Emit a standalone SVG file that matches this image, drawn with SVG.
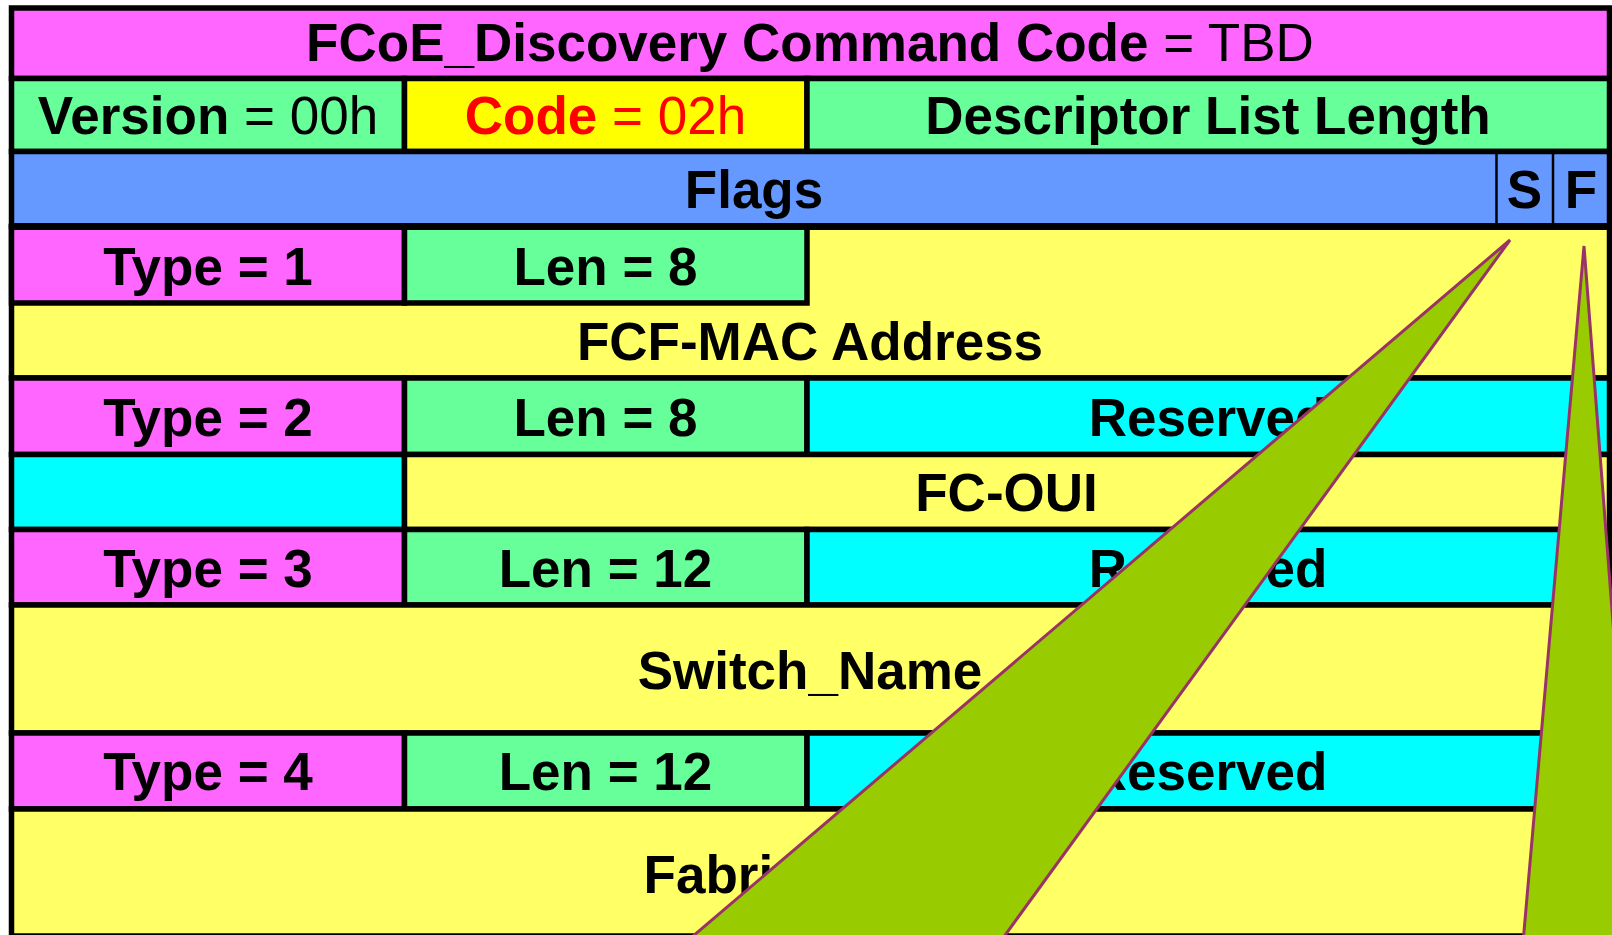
<svg xmlns="http://www.w3.org/2000/svg" width="1612" height="935" viewBox="0 0 1612 935">
  <style>
    .cell { stroke: #000; stroke-width: 5.5; }
    .pink { fill: #FF66FF; }
    .green { fill: #66FF99; }
    .yel { fill: #FFFF66; }
    .code { fill: #FFFF00; }
    .blue { fill: #6699FF; }
    .cyan { fill: #00FFFF; }
    .thin { stroke: #000; stroke-width: 2.5; }
    text { font-family: "Liberation Sans", Arial, Helvetica, sans-serif; font-size: 53px; font-weight: bold; fill: #000; text-anchor: middle; }
    .reg { font-weight: normal; }
    .red { fill: #FF0000; }
    .callout { fill: #99CC00; stroke: #993366; stroke-width: 3; }
  </style>
  <rect width="1612" height="935" fill="#FFFFFF"/>

  <!-- header word 0 -->
  <g id="title">
    <rect class="cell pink" x="11.5" y="8" width="1598" height="70.5"/>
    <text x="810" y="61">FCoE_Discovery Command Code<tspan class="reg"> = TBD</tspan></text>
  </g>

  <!-- header word 1 -->
  <g id="version">
    <rect class="cell green" x="11.5" y="78.5" width="393" height="73"/>
    <text x="208" y="134">Version<tspan class="reg"> = 00h</tspan></text>
  </g>
  <g id="code">
    <rect class="cell code" x="404.5" y="78.5" width="402.5" height="73"/>
    <text class="red" x="605.5" y="134">Code<tspan class="reg red"> = 02h</tspan></text>
  </g>
  <g id="desc-len">
    <rect class="cell green" x="807" y="78.5" width="802.5" height="73"/>
    <text x="1208" y="134">Descriptor List Length</text>
  </g>

  <!-- flags word -->
  <g id="flags">
    <rect class="cell blue" x="11.5" y="151.5" width="1598" height="75"/>
    <line class="thin" x1="1496.5" y1="151.5" x2="1496.5" y2="226.5"/>
    <line class="thin" x1="1553" y1="151.5" x2="1553" y2="226.5"/>
    <text x="754" y="208">Flags</text>
    <text x="1524.5" y="208">S</text>
    <text x="1581" y="208">F</text>
  </g>

  <!-- descriptor 1: FCF-MAC -->
  <g id="fcf-mac">
    <rect class="cell yel" x="11.5" y="226.5" width="1598" height="151.5"/>
    <text x="810" y="359.5">FCF-MAC Address</text>
  </g>
  <g id="type1">
    <rect class="cell pink" x="11.5" y="226.5" width="393" height="76.5"/>
    <text x="208" y="284.5">Type = 1</text>
  </g>
  <g id="len1">
    <rect class="cell green" x="404.5" y="226.5" width="402.5" height="76.5"/>
    <text x="605.5" y="284.5">Len = 8</text>
  </g>
  <line x1="11.5" y1="226.5" x2="1609.5" y2="226.5" stroke="#000" stroke-width="7"/>

  <!-- descriptor 2: FC-OUI -->
  <g id="type2">
    <rect class="cell pink" x="11.5" y="378" width="393" height="76.5"/>
    <text x="208" y="436">Type = 2</text>
  </g>
  <g id="len2">
    <rect class="cell green" x="404.5" y="378" width="402.5" height="76.5"/>
    <text x="605.5" y="436">Len = 8</text>
  </g>
  <g id="rsvd2">
    <rect class="cell cyan" x="807" y="378" width="802.5" height="76.5"/>
    <text x="1208" y="436">Reserved</text>
  </g>
  <g id="oui-pad">
    <rect class="cell cyan" x="11.5" y="454.5" width="393" height="75"/>
  </g>
  <g id="fc-oui">
    <rect class="cell yel" x="404.5" y="454.5" width="1205" height="75"/>
    <text x="1006.5" y="511">FC-OUI</text>
  </g>

  <!-- descriptor 3: Switch_Name -->
  <g id="type3">
    <rect class="cell pink" x="11.5" y="529.5" width="393" height="75.5"/>
    <text x="208" y="586.5">Type = 3</text>
  </g>
  <g id="len3">
    <rect class="cell green" x="404.5" y="529.5" width="402.5" height="75.5"/>
    <text x="605.5" y="586.5">Len = 12</text>
  </g>
  <g id="rsvd3">
    <rect class="cell cyan" x="807" y="529.5" width="802.5" height="75.5"/>
    <text x="1208" y="586.5">Reserved</text>
  </g>
  <g id="switch-name">
    <rect class="cell yel" x="11.5" y="605" width="1598" height="128"/>
    <text x="810" y="688.5">Switch_Name</text>
  </g>

  <!-- descriptor 4: Fabric_Name -->
  <g id="type4">
    <rect class="cell pink" x="11.5" y="733" width="393" height="76"/>
    <text x="208" y="790">Type = 4</text>
  </g>
  <g id="len4">
    <rect class="cell green" x="404.5" y="733" width="402.5" height="76"/>
    <text x="605.5" y="790">Len = 12</text>
  </g>
  <g id="rsvd4">
    <rect class="cell cyan" x="807" y="733" width="802.5" height="76"/>
    <text x="1208" y="790">Reserved</text>
  </g>
  <g id="fabric-name">
    <rect class="cell yel" x="11.5" y="809" width="1598" height="127"/>
    <text x="810" y="893">Fabric_Name</text>
  </g>

  <!-- callout wedges from the S and F bits -->
  <g id="connectors">
    <polygon class="callout" points="1510,240 618,1000 958,1000"/>
    <polygon class="callout" points="1584,246 1518,1000 1642,1000"/>
  </g>
</svg>
